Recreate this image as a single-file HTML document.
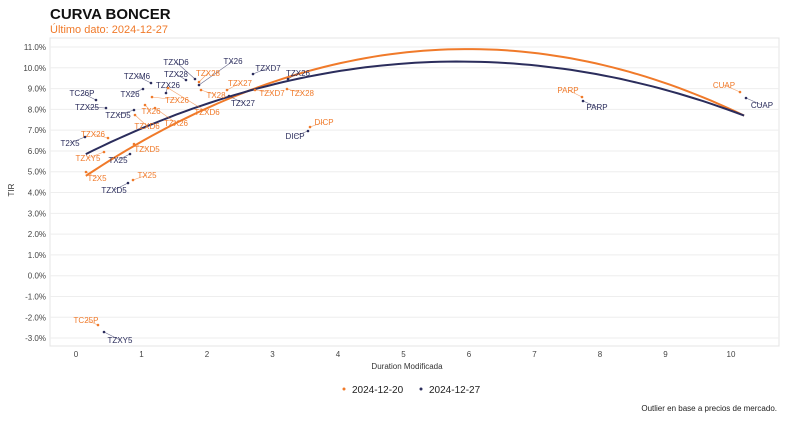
<!DOCTYPE html>
<html><head><meta charset="utf-8"><style>
html,body{margin:0;padding:0;background:#fff;}
svg{display:block;font-family:"Liberation Sans",sans-serif;}
</style></head><body>
<svg id="s" width="800" height="422" viewBox="0 0 800 422" xmlns="http://www.w3.org/2000/svg">
<text x="50" y="19" font-size="15" font-weight="bold" fill="#111">CURVA BONCER</text>
<text x="50" y="33" font-size="11" fill="#f07a2a">Último dato: 2024-12-27</text>
<rect x="50" y="38" width="729" height="308" fill="none" stroke="#e4e4e4"/>
<g id="grid"></g>
<text x="14" y="190" font-size="8" fill="#333" transform="rotate(-90 14 190)" text-anchor="middle">TIR</text>
<text x="407" y="369" font-size="8" fill="#333" text-anchor="middle">Duration Modificada</text>
<path id="po" fill="none" stroke="#f07a2a" stroke-width="2"/>
<path id="pn" fill="none" stroke="#2b2d5c" stroke-width="2"/>
<g id="lab" font-size="8"></g>
<circle cx="344" cy="389" r="1.5" fill="#f07a2a"/>
<text x="352" y="393" font-size="10" fill="#222">2024-12-20</text>
<circle cx="421" cy="389" r="1.5" fill="#2b2d5c"/>
<text x="429" y="393" font-size="10" fill="#222">2024-12-27</text>
<text x="777" y="411" font-size="8" fill="#222" text-anchor="end">Outlier en base a precios de mercado.</text>
</svg>
<script>
var NS="http://www.w3.org/2000/svg";
function X(v){return 76+v*65.5;}function Y(v){return 47+(11-v)*20.79;}
var g=document.getElementById('grid'),h='';
for(var v=11;v>=-3;v--){var y=Y(v);h+='<line x1="50" x2="779" y1="'+y+'" y2="'+y+'" stroke="#eeeeee"/>';
h+='<text x="46" y="'+(y+3)+'" font-size="8" fill="#444" text-anchor="end">'+v.toFixed(1)+'%</text>';}
for(var i=0;i<=10;i++){h+='<text x="'+X(i)+'" y="357" font-size="8" fill="#444" text-anchor="middle">'+i+'</text>';}
g.innerHTML=h;
function curve(p){var d='';for(var k=0;k<=80;k++){var x=0.15+(10.2-0.15)*k/80,y=0;
for(var i=0;i<3;i++){var t=p[i][1];for(var j=0;j<3;j++)if(j!=i)t*=(x-p[j][0])/(p[i][0]-p[j][0]);y+=t;}
d+=(k?'L':'M')+X(x).toFixed(1)+' '+Y(y).toFixed(1);}return d;}
document.getElementById('po').setAttribute('d',curve([[0.15,4.8],[6,10.9],[10.2,7.7]]));
document.getElementById('pn').setAttribute('d',curve([[0.15,5.85],[5.9,10.3],[10.2,7.7]]));
var O='#f07a2a',N='#2b2d5c';
var L=[
[N,'TZXD6',176,65,195,79],[N,'TX26',233,64,199,85],[N,'TZXD7',268,71,253,74],[N,'TZX26',298,76,288,79],
[N,'TZXM6',137,79,151,83],[N,'TZX26',168,88,166,93],[N,'TZX28',176,77,186,80],[N,'TC26P',82,96,96,100],
[N,'TX26',130,97,143,89],[N,'TZX25',87,110,106,108],[N,'TZXD5',118,118,134,110],[N,'TZX27',243,106,229,96],
[N,'T2X5',70,146,85,137],[N,'TX25',118,163,130,154],[N,'TZXD5',114,193,128,183],[N,'DICP',295,139,308,131],
[N,'PARP',597,110,583,101],[N,'CUAP',762,108,746,98],[N,'TZXY5',120,343,104,332],
[O,'TZX28',208,76,199,82],[O,'TZX27',240,86,227,90],[O,'TZXD7',272,96,255,90],[O,'TZX28',302,96,287,89],
[O,'TX28',216,98,201,90],[O,'TZX26',177,103,152,97],[O,'TZXD6',207,115,168,88],[O,'TX26',151,114,145,105],
[O,'TZXD6',147,129,135,115],[O,'TZX26',176,126,155,108],[O,'TZX26',93,137,108,138],[O,'TZXD5',147,152,134,144],
[O,'TZXY5',88,161,104,152],[O,'T2X5',97,181,86,172],[O,'TX25',147,178,133,180],[O,'DICP',324,125,310,127],
[O,'PARP',568,93,582,97],[O,'CUAP',724,88,740,92],[O,'TC25P',86,323,98,325]];
var s='';L.forEach(function(a){var c=a[0];
s+='<line x1="'+a[2]+'" y1="'+(a[3]-3)+'" x2="'+a[4]+'" y2="'+a[5]+'" stroke="'+c+'" stroke-width="0.6" opacity="0.7"/>';
s+='<circle cx="'+a[4]+'" cy="'+a[5]+'" r="1.3" fill="'+c+'"/>';
s+='<text x="'+a[2]+'" y="'+a[3]+'" fill="'+c+'" text-anchor="middle">'+a[1]+'</text>';});
document.getElementById('lab').innerHTML=s;
</script>
</body></html>
